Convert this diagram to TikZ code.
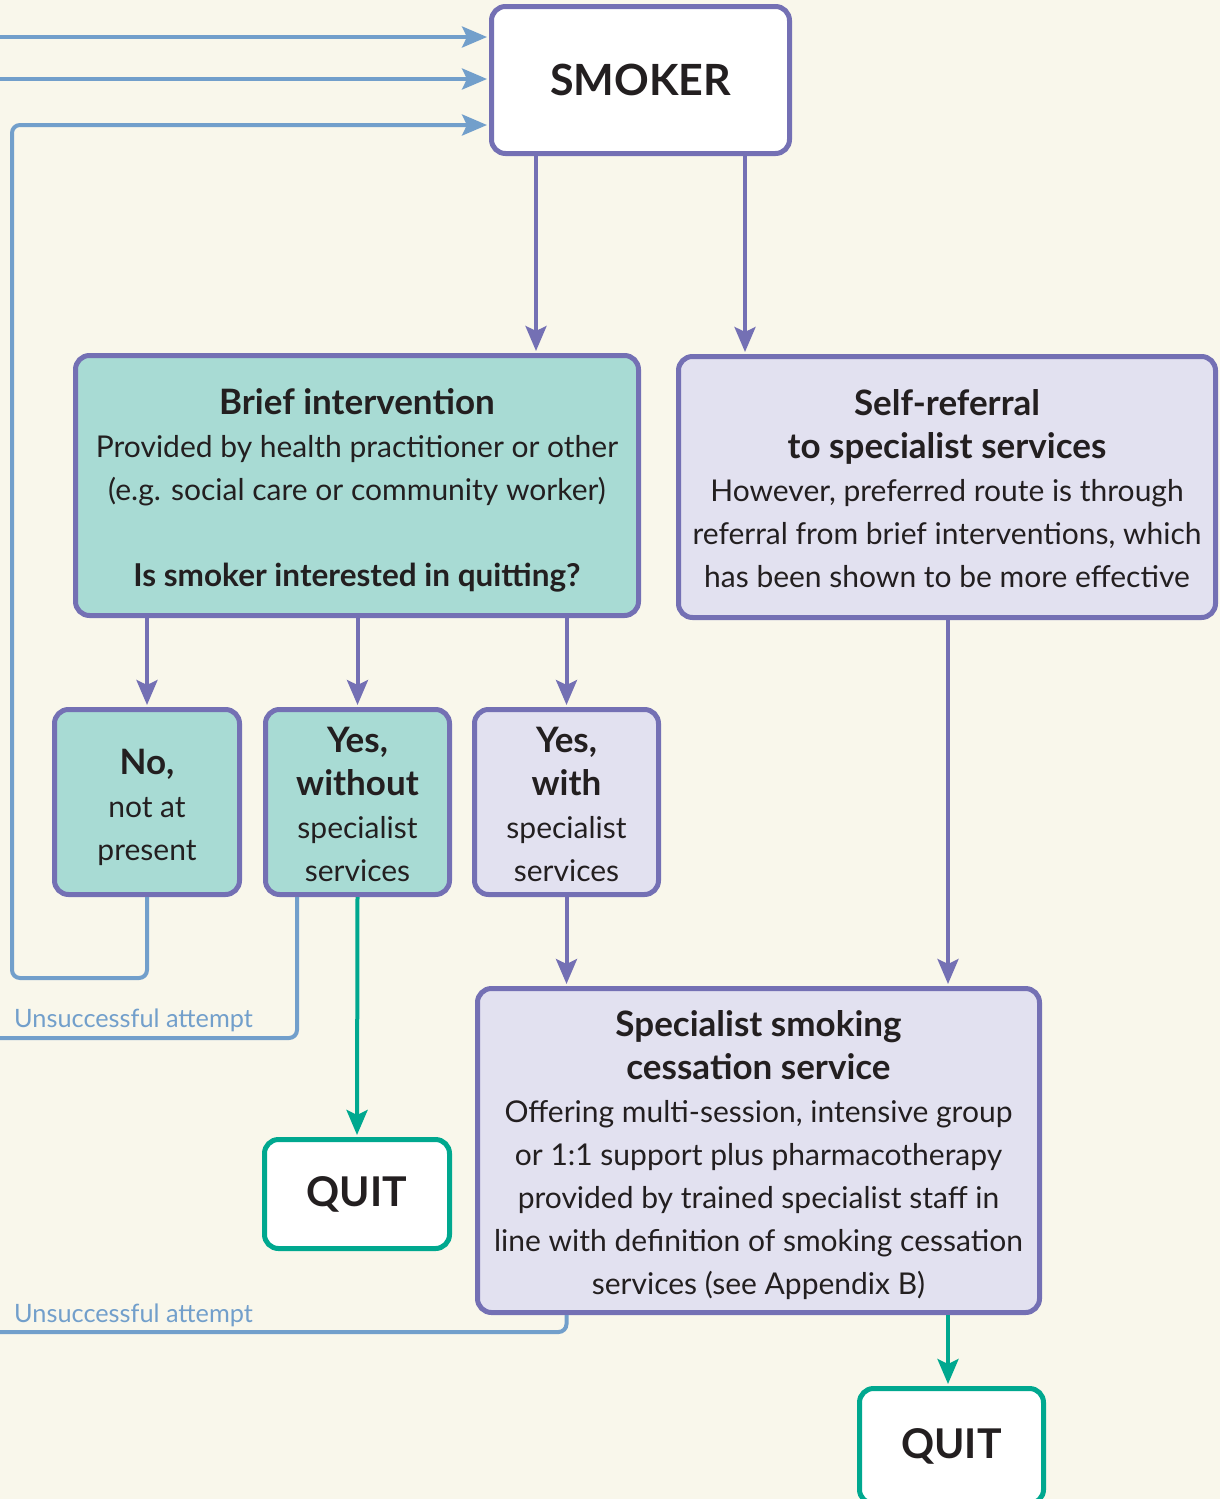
\documentclass[tikz,border=0pt]{standalone}
\usepackage{fontspec}
\setmainfont{Lato}
\usetikzlibrary{arrows.meta,calc}
\definecolor{bgc}{HTML}{F9F7EB}
\definecolor{purp}{HTML}{7470B4}
\definecolor{bluel}{HTML}{729FCB}
\definecolor{tealf}{HTML}{A8DBD4}
\definecolor{lavf}{HTML}{E2E1F0}
\definecolor{grn}{HTML}{00A88F}
\definecolor{txt}{HTML}{231F20}
\newcommand\hd[1]{{\fontsize{35}{43}\selectfont\bfseries #1}}
\newcommand\hdq[1]{{\fontsize{31.5}{43}\selectfont\bfseries #1}}
\tikzset{
  box/.style={draw=purp, line width=5pt, rounded corners=14pt, inner sep=0pt},
  btext/.style={align=center, inner sep=0pt, text=txt, font=\fontsize{30}{43}\selectfont},
  tealbox/.style={box, fill=tealf},
  lavbox/.style={box, fill=lavf},
  bigbox/.style={box, fill=white, text=txt, font=\fontsize{43}{50}\selectfont\bfseries},
  quitbox/.style={bigbox, draw=grn, font=\fontsize{41}{50}\selectfont\bfseries},
  parrow/.style={draw=purp, line width=4pt, -{Stealth[length=25pt,width=21pt,inset=5pt]}, shorten >=2pt},
  garrow/.style={draw=grn, line width=4pt, -{Stealth[length=25pt,width=21pt,inset=5pt]}, shorten >=2pt},
  bline/.style={draw=bluel, line width=4pt, rounded corners=8pt},
  barrow/.style={bline, -{Stealth[length=25pt,width=21pt,inset=5pt]}, shorten >=2pt},
  ulabel/.style={text=bluel, font=\fontsize{25.3}{30}\selectfont, anchor=base west, inner sep=0pt}
}
\begin{document}
\begin{tikzpicture}[x=1pt,y=-1pt]
\fill[bgc] (0,0) rectangle (1220,1499);
\useasboundingbox (0,0) rectangle (1220,1499);

\node[bigbox, minimum width=298pt, minimum height=147pt] (smoker) at (640.5,80) {SMOKER};

\node[tealbox, minimum width=563pt, minimum height=260pt] (brief) at (357,485.5) {};
\node[btext] (brieft) at ([yshift=-5pt]brief.center)
  {\hd{Brief intervention}\\Provided by health practitioner or other\\(e.g. social care or community worker)\\[43pt]\hdq{Is smoker interested in quitting?}};

\node[lavbox, minimum width=537pt, minimum height=261pt] (self) at (947,487) {};
\node[btext] (selft) at ([yshift=-2pt]self.center)
  {\hd{Self-referral}\\\hd{to specialist services}\\However, preferred route is through\\referral from brief interventions, which\\has been shown to be more effective};

\node[tealbox, minimum width=185pt, minimum height=185pt] (no) at (147,802) {};
\node[btext] (not) at ([yshift=-5pt]no.center) {\hd{No,}\\not at\\present};
\node[tealbox, minimum width=184pt, minimum height=185pt] (yeswo) at (357.5,802) {};
\node[btext] (yeswot) at ([yshift=-2pt]yeswo.center) {\hd{Yes,}\\\hd{without}\\specialist\\services};
\node[lavbox, minimum width=184pt, minimum height=185pt] (yeswith) at (566.5,802) {};
\node[btext] (yeswitht) at ([yshift=-2pt]yeswith.center) {\hd{Yes,}\\\hd{with}\\specialist\\services};

\node[lavbox, minimum width=562pt, minimum height=324pt] (spec) at (758.5,1150.5) {};
\node[btext] (spect) at ([yshift=-5pt]spec.center)
  {\hd{Specialist smoking}\\\hd{cessation service}\\Offering multi-session, intensive group\\or 1:1 support plus pharmacotherapy\\provided by trained specialist staff in\\line with definition of smoking cessation\\services (see Appendix B)};

\node[quitbox, minimum width=185pt, minimum height=109pt] (quit1) at (357,1194) {QUIT};
\node[quitbox, minimum width=184pt, minimum height=115pt] (quit2) at (951.5,1446) {QUIT};

% x positions
\coordinate (xa) at (536,0);
\coordinate (xb) at (745,0);
\coordinate (xs) at (948,0);

% purple arrows
\draw[parrow] (xa |- smoker.south) -- (xa |- brief.north);
\draw[parrow] (xb |- smoker.south) -- (xb |- self.north);
\draw[parrow] (no.north |- brief.south) -- (no.north);
\draw[parrow] (yeswo.north |- brief.south) -- (yeswo.north);
\draw[parrow] (yeswith.north |- brief.south) -- (yeswith.north);
\draw[parrow] (yeswith.south) -- (yeswith.south |- spec.north);
\draw[parrow] (xs |- self.south) -- (xs |- spec.north);

% green arrows
\draw[garrow] (yeswo.south) -- (quit1.north);
\draw[garrow] (xs |- spec.south) -- (xs |- quit2.north);

% blue incoming lines
\coordinate (in1) at (0,37);
\coordinate (in2) at (0,79);
\draw[barrow] (in1) -- (in1 -| smoker.west);
\draw[barrow] (in2) -- (in2 -| smoker.west);
\draw[barrow] (no.south) -- (147,978) -- (12,978) -- (12,125) -- (smoker.west |- 0,125);

% unsuccessful attempts
\coordinate (u1) at (297,0);
\draw[bline] (u1 |- yeswo.south) -- (297,1038) -- (0,1038);
\draw[bline] (yeswith.south |- spec.south) -- (566.5,1332) -- (0,1332);
\node[ulabel] (lab1) at (14,1027) {Unsuccessful attempt};
\node[ulabel] (lab2) at (14,1322) {Unsuccessful attempt};
\end{tikzpicture}
\end{document}
